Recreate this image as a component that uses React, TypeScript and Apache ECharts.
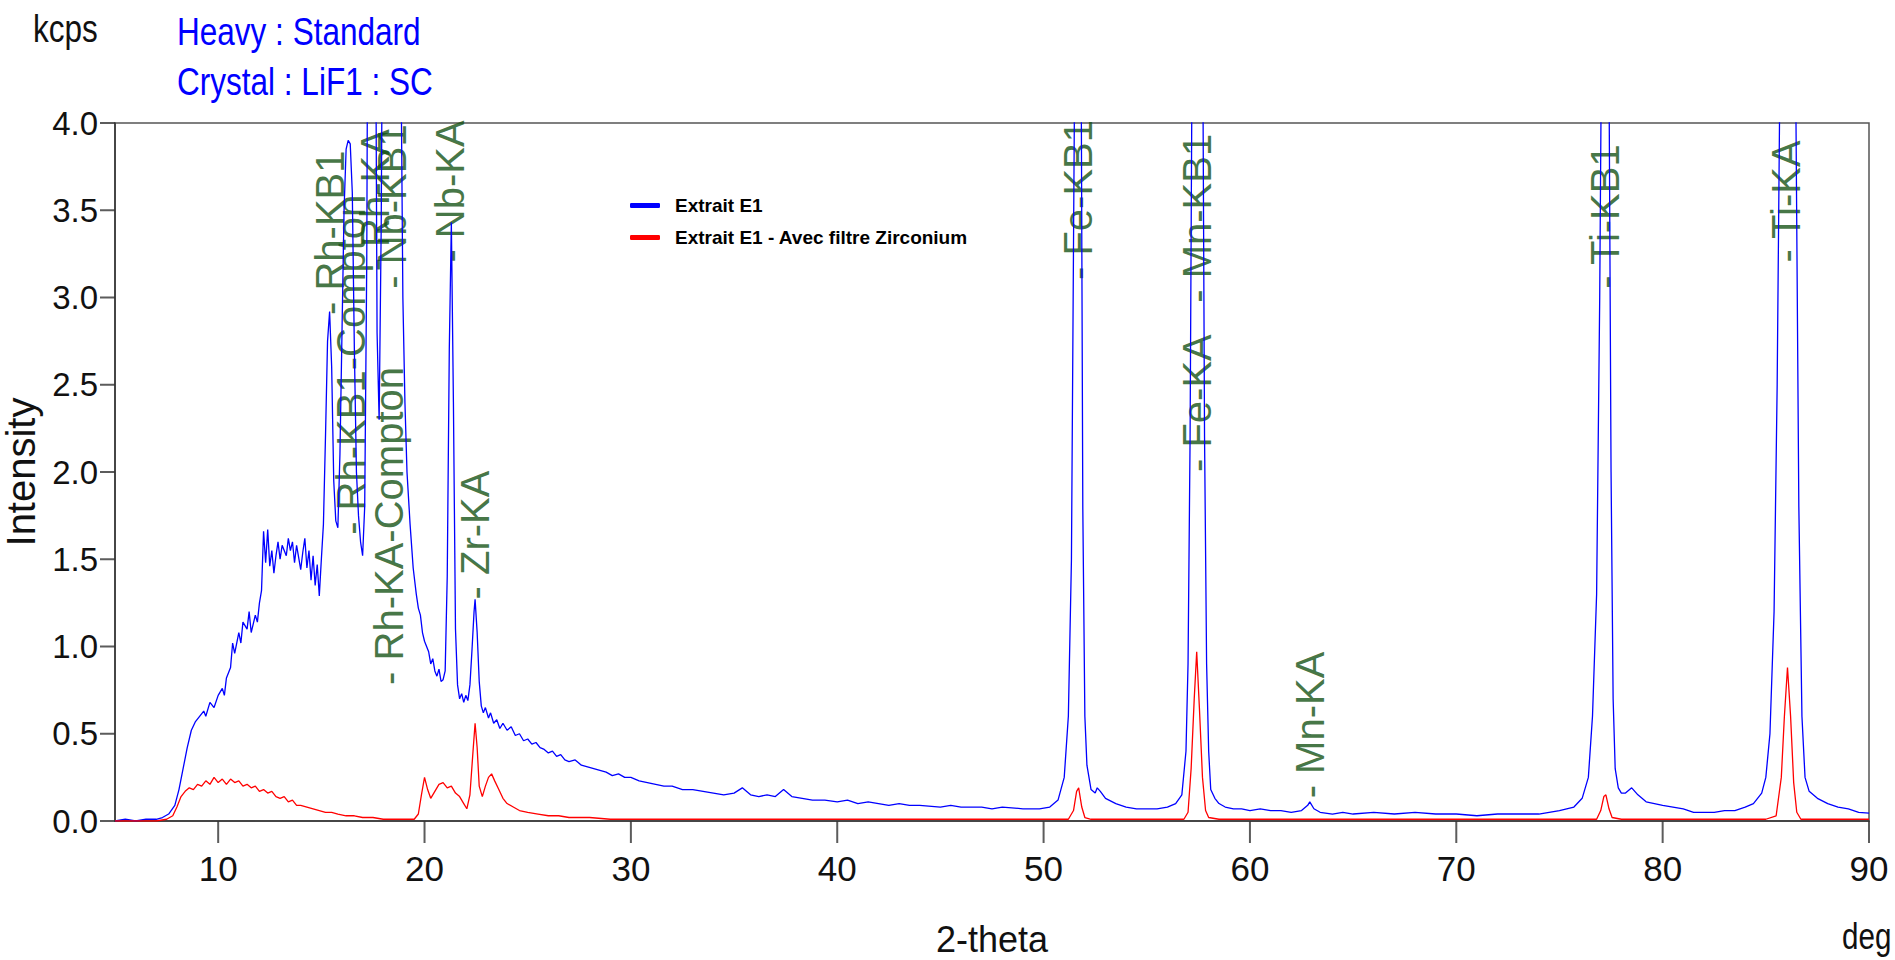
import React, { useEffect, useRef } from "react";
import * as echarts from "echarts";

// ---- data (2-theta in deg, intensity in kcps) ----
const xMin = 5;
const xMax = 90;
const xTicks = [10, 20, 30, 40, 50, 60, 70, 80, 90];
const yTicks = [0, 0.5, 1, 1.5, 2, 2.5, 3, 3.5, 4];

const blueName = "Extrait E1";
const redName = "Extrait E1 - Avec filtre Zirconium";

const blueSpectrum: [number, number][] = [
  [5.0, 0.0], [5.5, 0.01], [6.0, 0.0], [6.5, 0.01], [7.0, 0.01], [7.3, 0.02], [7.6, 0.04], [7.9, 0.09],
  [8.1, 0.18], [8.3, 0.3], [8.5, 0.42], [8.7, 0.52], [8.9, 0.57], [9.1, 0.6], [9.3, 0.63], [9.4, 0.6],
  [9.6, 0.68], [9.8, 0.65], [10.0, 0.72], [10.2, 0.76], [10.3, 0.72], [10.4, 0.82], [10.6, 0.88], [10.7, 1.02],
  [10.8, 0.96], [11.0, 1.08], [11.1, 1.02], [11.2, 1.14], [11.4, 1.1], [11.5, 1.2], [11.6, 1.08], [11.8, 1.18],
  [11.9, 1.14], [12.0, 1.25], [12.1, 1.32], [12.2, 1.66], [12.3, 1.48], [12.4, 1.67], [12.5, 1.46], [12.6, 1.55],
  [12.7, 1.42], [12.8, 1.52], [12.9, 1.6], [13.0, 1.5], [13.1, 1.58], [13.3, 1.52], [13.4, 1.62], [13.5, 1.55],
  [13.6, 1.6], [13.7, 1.48], [13.8, 1.58], [14.0, 1.44], [14.1, 1.54], [14.2, 1.62], [14.3, 1.45], [14.4, 1.55],
  [14.5, 1.38], [14.6, 1.52], [14.7, 1.35], [14.8, 1.47], [14.9, 1.29], [15.0, 1.5], [15.1, 1.7], [15.2, 2.2],
  [15.3, 2.75], [15.4, 2.92], [15.5, 2.6], [15.6, 1.95], [15.7, 1.72], [15.8, 1.68], [15.9, 2.1], [16.0, 2.8],
  [16.1, 3.5], [16.2, 3.85], [16.3, 3.9], [16.4, 3.88], [16.5, 3.6], [16.6, 2.7], [16.7, 2.0], [16.8, 1.75],
  [16.9, 1.6], [17.0, 1.52], [17.1, 1.8], [17.2, 3.2], [17.3, 6.5], [17.45, 9.0], [17.6, 5.5], [17.7, 2.8],
  [17.8, 2.3], [17.9, 3.4], [18.0, 5.5], [18.2, 8.5], [18.45, 9.5], [18.7, 7.0], [18.85, 4.5], [18.95, 3.0],
  [19.05, 2.4], [19.15, 2.0], [19.3, 1.7], [19.45, 1.45], [19.6, 1.3], [19.7, 1.22], [19.8, 1.18], [19.9, 1.08],
  [20.0, 1.03], [20.1, 1.0], [20.2, 0.97], [20.3, 0.9], [20.4, 0.93], [20.5, 0.86], [20.6, 0.83], [20.7, 0.87],
  [20.8, 0.8], [20.9, 0.81], [21.0, 0.86], [21.1, 1.4], [21.2, 2.7], [21.3, 3.43], [21.4, 2.4], [21.5, 1.1],
  [21.6, 0.78], [21.7, 0.7], [21.8, 0.73], [21.9, 0.68], [22.0, 0.72], [22.1, 0.69], [22.2, 0.78], [22.3, 0.98],
  [22.4, 1.2], [22.45, 1.27], [22.55, 1.08], [22.65, 0.8], [22.75, 0.66], [22.85, 0.62], [22.95, 0.65], [23.1, 0.59],
  [23.2, 0.62], [23.35, 0.56], [23.5, 0.58], [23.65, 0.53], [23.8, 0.56], [24.0, 0.52], [24.2, 0.54], [24.4, 0.49],
  [24.6, 0.5], [24.8, 0.46], [25.0, 0.47], [25.2, 0.44], [25.4, 0.45], [25.6, 0.42], [25.8, 0.41], [26.0, 0.39],
  [26.2, 0.4], [26.4, 0.37], [26.6, 0.38], [26.8, 0.35], [27.0, 0.34], [27.3, 0.35], [27.6, 0.32], [27.9, 0.31],
  [28.2, 0.3], [28.5, 0.29], [28.8, 0.28], [29.1, 0.26], [29.4, 0.27], [29.7, 0.25], [30.0, 0.25], [30.4, 0.23],
  [30.8, 0.22], [31.2, 0.21], [31.6, 0.2], [32.0, 0.2], [32.5, 0.18], [33.0, 0.18], [33.5, 0.17], [34.0, 0.16],
  [34.5, 0.15], [35.0, 0.16], [35.4, 0.19], [35.8, 0.15], [36.2, 0.14], [36.6, 0.15], [37.0, 0.14], [37.4, 0.18],
  [37.8, 0.14], [38.3, 0.13], [38.8, 0.12], [39.4, 0.12], [40.0, 0.11], [40.5, 0.12], [41.0, 0.1], [41.5, 0.11],
  [42.0, 0.1], [42.5, 0.09], [43.0, 0.1], [43.5, 0.09], [44.0, 0.09], [45.0, 0.08], [45.5, 0.09], [46.0, 0.08],
  [47.0, 0.08], [47.5, 0.07], [48.0, 0.08], [49.0, 0.07], [49.8, 0.07], [50.3, 0.08], [50.7, 0.12], [51.0, 0.25],
  [51.2, 0.6], [51.35, 1.5], [51.5, 4.2], [51.65, 9.0], [51.8, 5.0], [51.9, 1.8], [52.0, 0.6], [52.1, 0.32],
  [52.3, 0.18], [52.5, 0.16], [52.6, 0.19], [52.75, 0.17], [53.0, 0.13], [53.5, 0.1], [54.0, 0.08], [54.5, 0.07],
  [55.0, 0.07], [55.5, 0.07], [56.0, 0.08], [56.4, 0.1], [56.7, 0.15], [56.9, 0.4], [57.0, 0.9], [57.1, 2.2],
  [57.2, 4.5], [57.45, 12.0], [57.7, 4.8], [57.8, 2.2], [57.9, 0.9], [58.0, 0.4], [58.1, 0.18], [58.3, 0.13],
  [58.5, 0.1], [58.8, 0.08], [59.2, 0.07], [59.6, 0.07], [60.0, 0.06], [60.5, 0.07], [61.0, 0.06], [61.5, 0.06],
  [62.0, 0.05], [62.5, 0.06], [62.8, 0.09], [62.9, 0.11], [63.1, 0.07], [63.4, 0.05], [64.0, 0.04], [64.5, 0.05],
  [65.0, 0.04], [66.0, 0.05], [67.0, 0.04], [68.0, 0.05], [69.0, 0.04], [70.0, 0.04], [71.0, 0.03], [72.0, 0.04],
  [73.0, 0.04], [74.0, 0.04], [75.0, 0.06], [75.7, 0.08], [76.1, 0.13], [76.4, 0.25], [76.6, 0.6], [76.8, 1.3],
  [76.95, 3.0], [77.1, 5.5], [77.25, 10.0], [77.4, 4.3], [77.5, 2.0], [77.6, 0.7], [77.7, 0.3], [77.85, 0.19],
  [78.0, 0.16], [78.2, 0.16], [78.5, 0.19], [78.8, 0.15], [79.2, 0.11], [79.6, 0.1], [80.0, 0.09], [80.5, 0.08],
  [81.0, 0.07], [81.5, 0.05], [82.0, 0.05], [82.5, 0.05], [83.0, 0.06], [83.5, 0.06], [84.0, 0.08], [84.4, 0.1],
  [84.8, 0.16], [85.0, 0.25], [85.2, 0.5], [85.4, 1.2], [85.55, 2.5], [85.7, 4.5], [86.0, 9.0], [86.3, 6.0],
  [86.45, 4.2], [86.6, 1.8], [86.75, 0.6], [86.9, 0.25], [87.1, 0.17], [87.5, 0.13], [88.0, 0.1], [88.5, 0.08],
  [89.0, 0.07], [89.5, 0.05], [90.0, 0.045],
];

const redSpectrum: [number, number][] = [
  [5.0, 0.0], [6.0, 0.0], [7.0, 0.0], [7.5, 0.01], [7.8, 0.03], [8.0, 0.08], [8.2, 0.14], [8.4, 0.17],
  [8.6, 0.19], [8.8, 0.18], [9.0, 0.21], [9.2, 0.2], [9.4, 0.23], [9.6, 0.21], [9.8, 0.25], [10.0, 0.22],
  [10.2, 0.24], [10.4, 0.21], [10.6, 0.24], [10.8, 0.22], [11.0, 0.23], [11.2, 0.2], [11.4, 0.21], [11.6, 0.19],
  [11.8, 0.2], [12.0, 0.17], [12.2, 0.18], [12.4, 0.16], [12.6, 0.17], [12.8, 0.14], [13.0, 0.13], [13.2, 0.14],
  [13.4, 0.11], [13.6, 0.12], [13.8, 0.09], [14.0, 0.09], [14.3, 0.08], [14.6, 0.07], [14.9, 0.06], [15.2, 0.05],
  [15.5, 0.05], [15.8, 0.04], [16.2, 0.03], [16.6, 0.03], [17.0, 0.02], [17.5, 0.02], [18.0, 0.01], [18.5, 0.01],
  [19.0, 0.01], [19.5, 0.01], [19.7, 0.04], [19.85, 0.15], [20.0, 0.25], [20.15, 0.18], [20.3, 0.13], [20.5, 0.17],
  [20.7, 0.21], [20.9, 0.22], [21.1, 0.19], [21.3, 0.2], [21.5, 0.16], [21.7, 0.14], [21.9, 0.1], [22.05, 0.07],
  [22.2, 0.15], [22.35, 0.4], [22.45, 0.56], [22.55, 0.42], [22.65, 0.2], [22.8, 0.14], [22.95, 0.2], [23.1, 0.25],
  [23.25, 0.27], [23.4, 0.23], [23.6, 0.18], [23.8, 0.13], [24.0, 0.1], [24.3, 0.08], [24.6, 0.06], [25.0, 0.05],
  [25.5, 0.04], [26.0, 0.03], [26.5, 0.03], [27.0, 0.02], [28.0, 0.02], [29.0, 0.01], [30.0, 0.01], [35.0, 0.01],
  [40.0, 0.01], [45.0, 0.01], [50.0, 0.01], [51.2, 0.01], [51.45, 0.06], [51.6, 0.17], [51.7, 0.19], [51.85, 0.08],
  [52.0, 0.02], [52.3, 0.01], [55.0, 0.01], [56.8, 0.01], [57.0, 0.05], [57.15, 0.3], [57.3, 0.7], [57.42, 0.97],
  [57.55, 0.65], [57.7, 0.25], [57.85, 0.06], [58.0, 0.02], [58.5, 0.01], [65.0, 0.01], [70.0, 0.01], [76.8, 0.01],
  [77.0, 0.06], [77.15, 0.14], [77.25, 0.15], [77.4, 0.07], [77.55, 0.02], [78.0, 0.01], [85.0, 0.01], [85.5, 0.03],
  [85.75, 0.25], [85.9, 0.6], [86.05, 0.88], [86.2, 0.6], [86.35, 0.22], [86.5, 0.05], [86.7, 0.01], [90.0, 0.01],
];

// peak identification labels: [2-theta, label base intensity]
const peakNames = [
  "Rh-KB1", "Rh-KB1-Compton", "Rh-KA", "Rh-KA-Compton", "Nb-KB1", "Nb-KA", "Zr-KA",
  "Fe-KB1", "Fe-KA", "Mn-KB1", "Mn-KA", "Ti-KB1", "Ti-KA",
];
const peakPositions: [number, number][] = [
  [15.4, 2.9], [16.45, 1.64], [17.6, 3.15], [18.3, 0.78], [18.42, 3.05], [21.25, 3.2], [22.45, 1.27],
  [51.66, 3.1], [57.42, 2.0], [57.42, 2.97], [62.9, 0.13], [77.2, 3.05], [86.0, 3.2],
];

const SANS = "'Liberation Sans', Arial, sans-serif";
const AXIS_COLOR = "#333333";

export default function App() {
  const ref = useRef<HTMLDivElement>(null);
  useEffect(() => {
    if (!ref.current) return;
    const chart = echarts.init(ref.current, undefined, { renderer: "svg" });
    const narrowText = (text: string, x: number, y: number, color: string, size: number, sx: number) => ({
      type: "text", x, y, scaleX: sx, z: 10,
      style: { text, fontFamily: SANS, fontSize: size, fill: color, align: "left", verticalAlign: "middle" },
    });
    chart.setOption({
      animation: false,
      backgroundColor: "#ffffff",
      grid: {
        left: 115, top: 123, right: 26, bottom: 139,
        containLabel: false, outerBoundsMode: "none",
        show: true, borderColor: "#555555", borderWidth: 1.5, backgroundColor: "transparent",
      },
      legend: {
        data: [blueName, redName],
        orient: "vertical",
        left: 625, top: 191,
        itemWidth: 30, itemHeight: 5, itemGap: 13,
        icon: "roundRect",
        textStyle: { fontFamily: SANS, fontWeight: "bold", fontSize: 19, color: "#000", padding: [0, 0, 0, 10] },
      },
      xAxis: {
        type: "value", min: xMin, max: xMax,
        name: "2-theta", nameLocation: "middle", nameGap: 100,
        nameTextStyle: { fontFamily: SANS, fontSize: 36, color: "#111" },
        axisLine: { show: true, onZero: false, lineStyle: { color: AXIS_COLOR, width: 1.5 } },
        axisTick: { show: false },
        axisLabel: { customValues: xTicks, margin: 30, fontFamily: SANS, fontSize: 35, color: "#111" },
        splitLine: { show: false },
      },
      yAxis: {
        type: "value", min: 0, max: 4, interval: 0.5,
        name: "Intensity", nameLocation: "middle", nameGap: 70, nameRotate: 90,
        nameTextStyle: { fontFamily: SANS, fontSize: 40, color: "#111" },
        axisLine: { show: true, onZero: false, lineStyle: { color: AXIS_COLOR, width: 1.5 } },
        axisTick: { show: false },
        axisLabel: { margin: 17, fontFamily: SANS, fontSize: 33, color: "#111", formatter: (v: number) => v.toFixed(1) },
        splitLine: { show: false },
      },
      series: [
        {
          name: "peaks", type: "scatter", silent: true, z: 1,
          symbolSize: 1, itemStyle: { color: "rgba(0,0,0,0)" },
          data: peakPositions.map((p, i) => ({ value: p, name: peakNames[i] })),
          label: {
            show: true, position: "inside", rotate: 90, align: "left", verticalAlign: "middle",
            formatter: "- {b}", fontFamily: SANS, fontSize: 40, color: "#145214",
          },
        },
        {
          name: blueName, type: "line", data: blueSpectrum, showSymbol: false, symbol: "none", z: 3,
          lineStyle: { color: "#0000ff", width: 1.3 }, itemStyle: { color: "#0000ff" },
        },
        {
          name: redName, type: "line", data: redSpectrum, showSymbol: false, symbol: "none", z: 4,
          lineStyle: { color: "#ff0000", width: 1.3 }, itemStyle: { color: "#ff0000" },
        },
        {
          name: "xTicks", type: "scatter", silent: true, z: 6, clip: false,
          data: xTicks.map((v) => [v, 0]),
          symbol: "rect", symbolSize: [2, 22], symbolOffset: [0, 11],
          itemStyle: { color: AXIS_COLOR },
        },
        {
          name: "yTicks", type: "scatter", silent: true, z: 6, clip: false,
          data: yTicks.map((v) => [xMin, v]),
          symbol: "rect", symbolSize: [15, 2], symbolOffset: [-7.5, 0],
          itemStyle: { color: AXIS_COLOR },
        },
      ],
      graphic: [
        narrowText("kcps", 33, 28, "#111", 38, 0.83),
        narrowText("Heavy : Standard", 177, 31, "#0000ff", 38, 0.83),
        narrowText("Crystal : LiF1 : SC", 177, 81, "#0000ff", 38, 0.83),
        narrowText("deg", 1842, 936, "#111", 37, 0.8),
      ],
    });
    return () => chart.dispose();
  }, []);
  return <div ref={ref} style={{ position: "fixed", left: 0, top: 0, width: 1895, height: 960, background: "#fff" }} />;
}
